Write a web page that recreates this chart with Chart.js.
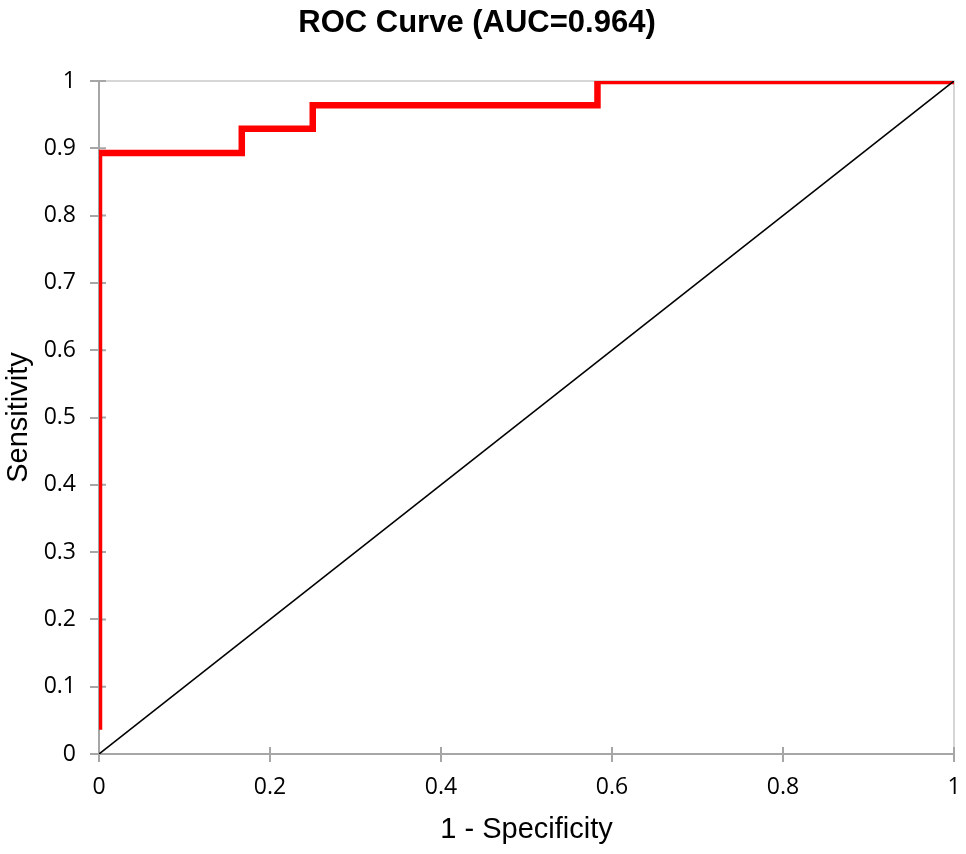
<!DOCTYPE html>
<html>
<head>
<meta charset="utf-8">
<script src="https://cdn.jsdelivr.net/npm/chart.js@4/dist/chart.umd.min.js"></script>
<style>
  html, body { margin: 0; padding: 0; background: #fff; }
  #wrap { width: 966px; height: 854px; position: relative; }
</style>
</head>
<body>
<div id="wrap"><canvas id="rocChart"></canvas></div>
<script>
// ROC points (1 - specificity, sensitivity)
const fpr = [0, 0, 0.167, 0.167, 0.25, 0.25, 0.583, 0.583, 1];
const tpr = [0.036, 0.893, 0.893, 0.929, 0.929, 0.964, 0.964, 1, 1];
// reference diagonal
const diagX = [0, 1];
const diagY = [0, 1];
// axis ticks
const xTicks = [0, 0.2, 0.4, 0.6, 0.8, 1];
const yTicks = [0, 0.1, 0.2, 0.3, 0.4, 0.5, 0.6, 0.7, 0.8, 0.9, 1];

const rocPoints = fpr.map((x, i) => ({x: x, y: tpr[i]}));
const diagPoints = diagX.map((x, i) => ({x: x, y: diagY[i]}));

// light gray top/right frame + tick marks poking into the plot
const framePlugin = {
    id: 'frame',
    beforeDatasetsDraw(chart) {
        const a = chart.chartArea;
        const ctx = chart.ctx;
        ctx.save();
        ctx.strokeStyle = '#d6d6d6';
        ctx.lineWidth = 2;
        ctx.beginPath();
        ctx.moveTo(a.left, a.top);
        ctx.lineTo(a.right, a.top);
        ctx.lineTo(a.right, a.bottom);
        ctx.stroke();

        ctx.strokeStyle = '#a6a6a6';
        ctx.beginPath();
        chart.scales.x.ticks.forEach(t => {
            const px = chart.scales.x.getPixelForValue(t.value);
            ctx.moveTo(px, a.bottom);
            ctx.lineTo(px, a.bottom - 7);
        });
        chart.scales.y.ticks.forEach(t => {
            const py = chart.scales.y.getPixelForValue(t.value);
            ctx.moveTo(a.left, py);
            ctx.lineTo(a.left + 7, py);
        });
        ctx.stroke();
        ctx.restore();
    }
};

new Chart("rocChart", {
    type: "scatter",
    data: {
        datasets: [{
            data: diagPoints,
            showLine: true,
            borderColor: "#000000",
            borderWidth: 1.6,
            pointRadius: 0
        }, {
            data: rocPoints,
            showLine: true,
            borderColor: "#ff0000",
            borderWidth: 6.5,
            borderJoinStyle: "miter",
            borderCapStyle: "butt",
            pointRadius: 0
        }]
    },
    options: {
        responsive: true,
        maintainAspectRatio: false,
        animation: false,
        layout: { padding: { left: 0, right: 12, top: 0, bottom: 0 } },
        plugins: {
            legend: { display: false },
            tooltip: { enabled: false },
            title: {
                display: true,
                text: "ROC Curve (AUC=0.964)",
                color: "#000",
                font: { family: "'Liberation Sans', Arial, sans-serif", size: 31, weight: "bold", lineHeight: 1.2 },
                padding: { top: 4.4, bottom: 39.4 }
            }
        },
        scales: {
            x: {
                type: "linear",
                min: 0,
                max: 1,
                afterFit(scale) { scale.height = 100; scale.paddingLeft = 0; scale.paddingRight = 0; },
                afterBuildTicks(scale) { scale.ticks = xTicks.map(v => ({value: v})); },
                border: { color: "#a6a6a6", width: 2 },
                grid: { drawOnChartArea: false, color: "#a6a6a6", lineWidth: 2, tickLength: 8 },
                ticks: {
                    color: "#000",
                    padding: 12,
                    font: { family: "'Open Sans', sans-serif", size: 23 },
                    callback: v => String(Math.round(v * 10) / 10)
                },
                title: {
                    display: true,
                    text: "1 - Specificity",
                    color: "#000",
                    font: { family: "'Liberation Sans', Arial, sans-serif", size: 29, lineHeight: 1.2 },
                    padding: { top: 0, bottom: 7 }
                }
            },
            y: {
                type: "linear",
                min: 0,
                max: 1,
                afterFit(scale) { scale.width = 99; scale.paddingTop = 0; scale.paddingBottom = 0; },
                afterBuildTicks(scale) { scale.ticks = yTicks.map(v => ({value: v})); },
                border: { color: "#a6a6a6", width: 2 },
                grid: { drawOnChartArea: false, color: "#a6a6a6", lineWidth: 2, tickLength: 9 },
                ticks: {
                    color: "#000",
                    padding: 14,
                    font: { family: "'Open Sans', sans-serif", size: 23 },
                    callback: v => String(Math.round(v * 10) / 10)
                },
                title: {
                    display: true,
                    text: "Sensitivity",
                    color: "#000",
                    font: { family: "'Liberation Sans', Arial, sans-serif", size: 29, lineHeight: 1.2 },
                    padding: { top: 2, bottom: 0 }
                }
            }
        }
    },
    plugins: [framePlugin]
});
</script>
</body>
</html>
